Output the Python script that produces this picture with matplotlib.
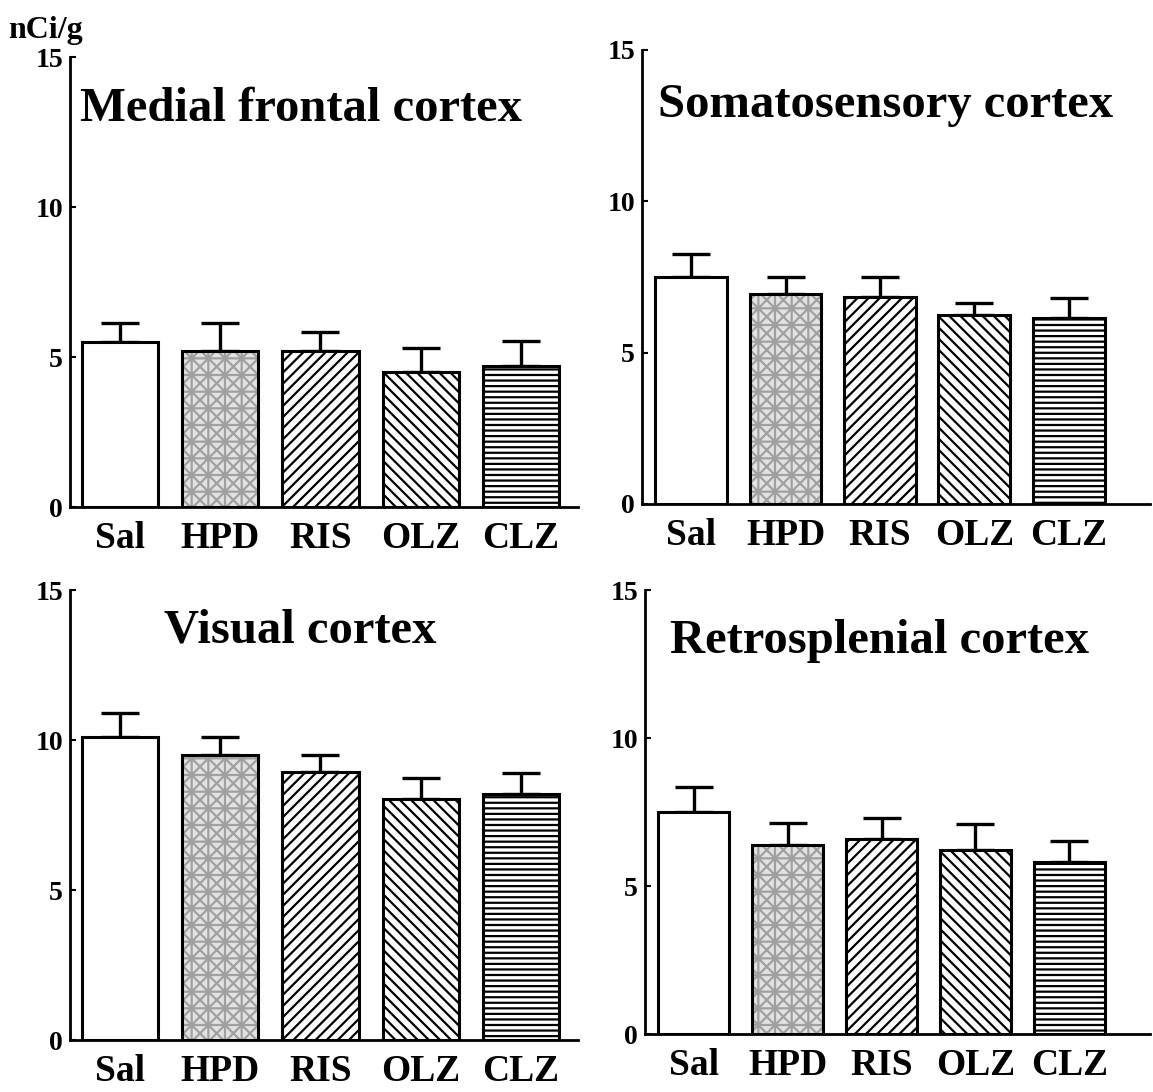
import matplotlib
matplotlib.use('Agg')
import matplotlib.pyplot as plt
import numpy as np

# -------------------------------
# Data
# -------------------------------
groups = ['Sal', 'HPD', 'RIS', 'OLZ', 'CLZ']

medial_mean = [5.5, 5.2, 5.2, 4.5, 4.7]
medial_sem = [0.65, 0.95, 0.65, 0.8, 0.85]

somato_mean = [7.5, 6.95, 6.85, 6.25, 6.15]
somato_sem = [0.75, 0.55, 0.65, 0.38, 0.65]

visual_mean = [10.1, 9.5, 8.95, 8.05, 8.2]
visual_sem = [0.8, 0.6, 0.55, 0.7, 0.7]

retro_mean = [7.5, 6.4, 6.6, 6.2, 5.8]
retro_sem = [0.85, 0.72, 0.7, 0.9, 0.72]

titles = ['Medial frontal cortex', 'Somatosensory cortex',
          'Visual cortex', 'Retrosplenial cortex']
yticks = [0, 5, 10, 15]

# -------------------------------
# Styles
# -------------------------------
plt.rcParams['font.family'] = ['Liberation Serif', 'DejaVu Serif']
plt.rcParams['font.weight'] = 'bold'
plt.rcParams['hatch.linewidth'] = 1.6

faces = ['white', '#e2e2e2', 'white', 'white', 'white']
hatches = [None, 'xx+', '///', '\\\\\\', '---']
hatch_cols = ['black', '#a0a0a0', 'black', 'black', 'black']

fig = plt.figure(figsize=(11.53, 10.92), dpi=100)

panels = [
    # rect, mean, sem, title position, xlim
    ([0.0607, 0.5357, 0.4406, 0.4121], medial_mean, medial_sem, (0.455, 0.885), (-0.5, 4.57)),
    ([0.5568, 0.5385, 0.4406, 0.4158], somato_mean, somato_sem, (0.48, 0.878), (-0.52, 4.86)),
    ([0.0607, 0.0476, 0.4406, 0.4121], visual_mean, visual_sem, (0.453, 0.91), (-0.5, 4.57)),
    ([0.5594, 0.0531, 0.4380, 0.4066], retro_mean, retro_sem, (0.465, 0.885), (-0.52, 4.86)),
]

x = np.arange(len(groups))
width = 0.76

for i, (rect, mean, sem, tpos, xlim) in enumerate(panels):
    ax = fig.add_axes(rect)

    # hatched fill first, then black outline on top
    for j in range(len(groups)):
        ax.bar(x[j], mean[j], width, color=faces[j], hatch=hatches[j],
               edgecolor=hatch_cols[j], linewidth=0, zorder=2)
    ax.bar(x, mean, width, facecolor='none', edgecolor='black',
           linewidth=2.2, zorder=3)

    # upper error bars only
    ax.errorbar(x, mean, yerr=[np.zeros(len(sem)), sem], fmt='none',
                ecolor='black', elinewidth=2.4, capsize=14, capthick=2.4,
                zorder=1)

    ax.set_xlim(*xlim)
    ax.set_ylim(0, 15)
    ax.set_yticks(yticks)
    ax.set_yticklabels([str(t) for t in yticks], fontsize=20, fontweight='bold')
    ax.set_xticks(x)
    ax.set_xticklabels(groups, fontsize=27, fontweight='bold')
    ax.tick_params(axis='x', length=0, pad=10)
    ax.tick_params(axis='y', direction='in', length=4, width=1.5, pad=5)

    for s in ['top', 'right']:
        ax.spines[s].set_visible(False)
    for s in ['left', 'bottom']:
        ax.spines[s].set_linewidth(2)

    ax.text(tpos[0], tpos[1], titles[i], transform=ax.transAxes,
            ha='center', va='center', fontsize=35, fontweight='bold')

fig.text(0.007, 0.972, 'nCi/g', fontsize=23, fontweight='bold',
         ha='left', va='center')

fig.savefig('out.png', dpi=100)
